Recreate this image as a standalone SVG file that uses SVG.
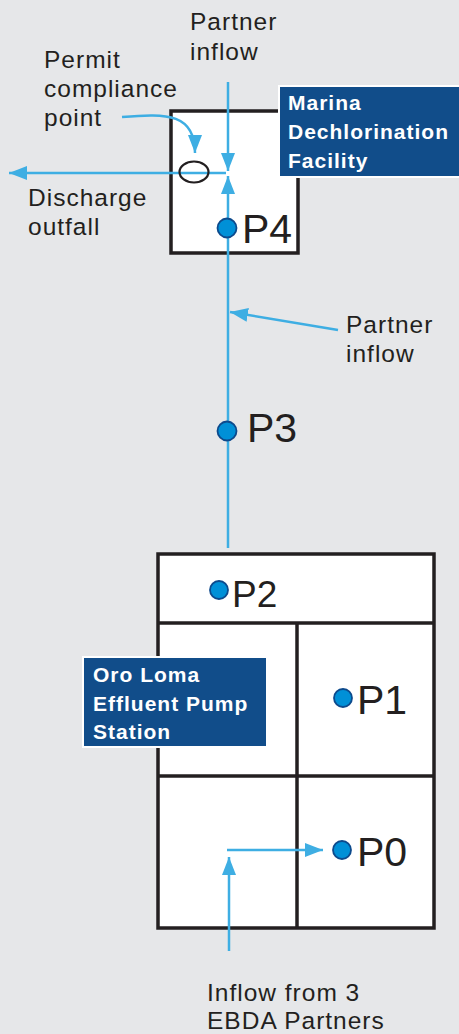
<svg xmlns="http://www.w3.org/2000/svg" width="459" height="1034" viewBox="0 0 459 1034">
  <defs>
    <marker id="ah" viewBox="0 0 18 14" refX="18" refY="7" markerWidth="18" markerHeight="14" markerUnits="userSpaceOnUse" orient="auto">
      <path d="M0,0 L18,7 L0,14 Z" fill="#3eaee3"/>
    </marker>
    <style>
      .txt { font-family: "Liberation Sans", Arial, sans-serif; font-size: 24.5px; fill: #231f20; letter-spacing: 1px; }
      .lbl { font-family: "Liberation Sans", Arial, sans-serif; font-size: 21px; font-weight: 700; fill: #ffffff; letter-spacing: 1px; }
      .pt { font-family: "Liberation Sans", Arial, sans-serif; font-size: 41px; fill: #231f20; }
      .box { fill: #ffffff; stroke: #231f20; stroke-width: 3.5; }
      .wall { stroke: #231f20; stroke-width: 3.5; fill: none; }
      .flow { stroke: #3eaee3; stroke-width: 2.5; fill: none; }
      .dot { fill: #0090d7; stroke: #0d4a8c; stroke-width: 1.8; }
      .tag { fill: #114d8a; stroke: #ffffff; stroke-width: 2; }
    </style>
  </defs>
  <rect x="0" y="0" width="459" height="1034" fill="#e6e7e9"/>

  <g id="marina-box">
    <rect class="box" x="171" y="111" width="127" height="142"/>
  </g>

  <g id="oro-loma-box">
    <rect class="box" x="158" y="554" width="276" height="374"/>
    <line class="wall" x1="158" y1="623" x2="434" y2="623"/>
    <line class="wall" x1="158" y1="776" x2="434" y2="776"/>
    <line class="wall" x1="297" y1="623" x2="297" y2="928"/>
  </g>

  <g id="connectors">
    <line class="flow" x1="228" y1="82" x2="228" y2="171" marker-end="url(#ah)"/>
    <line class="flow" x1="228" y1="548" x2="228" y2="176" marker-end="url(#ah)"/>
    <line class="flow" x1="226" y1="173" x2="9" y2="173" marker-end="url(#ah)"/>
    <path class="flow" d="M122,117 C168,113 195,114 195,153" marker-end="url(#ah)"/>
    <line class="flow" x1="338" y1="330" x2="230" y2="312" marker-end="url(#ah)"/>
    <line class="flow" x1="227" y1="850" x2="323" y2="850" marker-end="url(#ah)"/>
    <line class="flow" x1="229" y1="951" x2="229" y2="857" marker-end="url(#ah)"/>
  </g>

  <g id="compliance-point">
    <ellipse cx="194" cy="172" rx="14.5" ry="10.5" fill="none" stroke="#231f20" stroke-width="2.2"/>
  </g>

  <g id="marina-label">
    <rect class="tag" x="279" y="86" width="182" height="91"/>
    <text class="lbl" x="288" y="110">Marina</text>
    <text class="lbl" x="288" y="139">Dechlorination</text>
    <text class="lbl" x="288" y="168">Facility</text>
  </g>

  <g id="oro-loma-label">
    <rect class="tag" x="83" y="657" width="184" height="90"/>
    <text class="lbl" x="93" y="682">Oro Loma</text>
    <text class="lbl" x="93" y="711">Effluent Pump</text>
    <text class="lbl" x="93" y="739">Station</text>
  </g>

  <g id="p4">
    <circle class="dot" cx="227" cy="228" r="9.5"/>
    <text class="pt" x="242" y="243">P4</text>
  </g>
  <g id="p3">
    <circle class="dot" cx="227" cy="431" r="9.5"/>
    <text class="pt" x="247" y="442">P3</text>
  </g>
  <g id="p2">
    <circle class="dot" cx="219" cy="590" r="9"/>
    <text class="pt" x="232" y="607" style="font-size:37px">P2</text>
  </g>
  <g id="p1">
    <circle class="dot" cx="343" cy="698" r="9"/>
    <text class="pt" x="357" y="714">P1</text>
  </g>
  <g id="p0">
    <circle class="dot" cx="342" cy="850" r="9"/>
    <text class="pt" x="357" y="866">P0</text>
  </g>

  <g id="labels">
    <text class="txt" x="190" y="30">Partner</text>
    <text class="txt" x="190" y="60">inflow</text>
    <text class="txt" x="44" y="68">Permit</text>
    <text class="txt" x="44" y="97">compliance</text>
    <text class="txt" x="44" y="126">point</text>
    <text class="txt" x="28" y="206">Discharge</text>
    <text class="txt" x="28" y="235">outfall</text>
    <text class="txt" x="346" y="333">Partner</text>
    <text class="txt" x="346" y="362">inflow</text>
    <text class="txt" x="207" y="1001">Inflow from 3</text>
    <text class="txt" x="207" y="1029">EBDA Partners</text>
  </g>
</svg>
